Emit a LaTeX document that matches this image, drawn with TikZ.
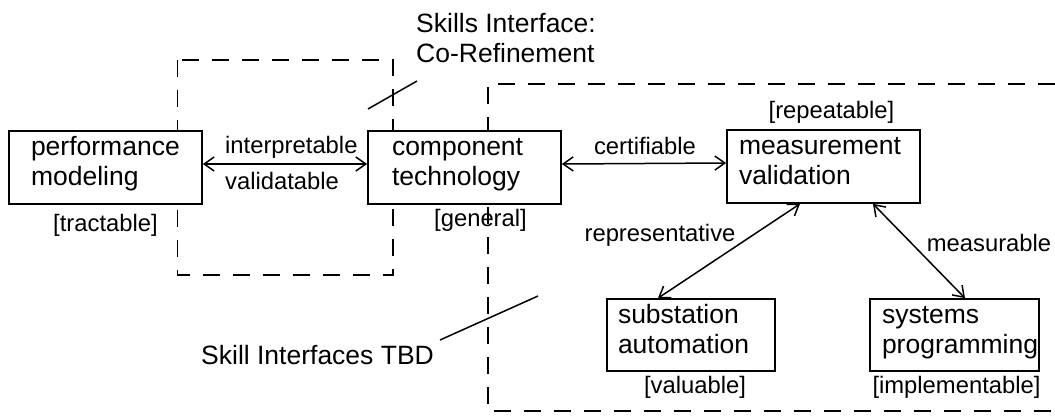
\documentclass[tikz,border=0pt]{standalone}
\usepackage{fontspec}
\setmainfont{Liberation Sans}
\usetikzlibrary{arrows.meta}
\newcommand{\twolines}[2]{\raisebox{3pt}[\height][\depth]{\begin{tabular}{@{}l@{}}#1\\#2\end{tabular}}}
\begin{document}
\begin{tikzpicture}[x=1pt,y=-1pt,
  boxfont/.style={font=\fontsize{26.5}{30}\selectfont},
  labfont/.style={font=\fontsize{23.8}{27}\selectfont},
  box/.style={draw, line width=1.7pt, fill=white, minimum height=73pt, align=left, boxfont, inner ysep=0pt},
  lab/.style={labfont, inner sep=0pt},
  dashbox/.style={line width=1.5pt, dash pattern=on 17pt off 13pt},
  biarrow/.style={line width=1.5pt, {Straight Barb[length=10pt,width=14pt]}-{Straight Barb[length=10pt,width=14pt]}},
  slash/.style={line width=1.5pt}
]
\useasboundingbox (0,0) rectangle (1055,418);
% dashed groups
\draw[dashbox] (177.5,60) rectangle (393,275);
\draw[dashbox] (1055,84) -- (488,84) -- (488,411) -- (1055,411);
% boxes
\node[box, inner xsep=22pt, text width=149pt] (perf) at (105.5,167.5) {\twolines{performance}{modeling}};
\node[box, inner xsep=24pt, text width=145pt] (comp) at (464.5,167.5) {\twolines{component}{technology}};
\node[box, inner xsep=12pt, text width=169pt] (meas) at (823.5,166.5) {\twolines{measurement}{validation}};
\node[box, inner xsep=11pt, text width=146pt, minimum height=72pt] (subst) at (691,335) {\twolines{substation}{automation}};
\node[box, inner xsep=12pt, text width=145pt, minimum height=72pt] (sysp) at (954.5,335) {\twolines{systems}{programming}};
% connectors
\draw[biarrow] ([yshift=3.5pt]perf.east) -- ([yshift=3.5pt]comp.west);
\draw[biarrow] ([yshift=3.5pt]comp.east) -- ([yshift=3.5pt]meas.west);
\draw[biarrow] ([xshift=-23.5pt]meas.south) -- ([xshift=-33pt]subst.north);
\draw[biarrow] ([xshift=49.5pt]meas.south) -- ([xshift=10.5pt]sysp.north);
% connector labels
\node[lab, anchor=west] (linterp) at (225,147) {interpretable};
\node[lab, anchor=west] (lvalid) at (225,181) {validatable};
\node[lab] (lcert) at (645,146) {certifiable};
\node[lab] (lrepr) at (660,235) {representative};
\node[lab] (lmeas) at (989,243) {measurable};
% qualities
\node[lab] (qtract) at (105.5,225) {[tractable]};
\node[lab] (qgen) at (480.5,220) {[general]};
\node[lab] (qrep) at (831.5,112) {[repeatable]};
\node[lab] (qval) at (695,387) {[valuable]};
\node[lab] (qimpl) at (956.5,387) {[implementable]};
% annotations
\node[boxfont, inner sep=0pt, anchor=west, align=left] (ann1) at (416,38) {Skills Interface:\\Co-Refinement};
\node[boxfont, inner sep=0pt, anchor=west] (ann2) at (201,355) {Skill Interfaces TBD};
\coordinate (s1a) at (368,109);
\coordinate (s1b) at (417,81);
\coordinate (s2a) at (440,340);
\coordinate (s2b) at (538,296);
\draw[slash] (s1a) -- (s1b);
\draw[slash] (s2a) -- (s2b);
\end{tikzpicture}
\end{document}
